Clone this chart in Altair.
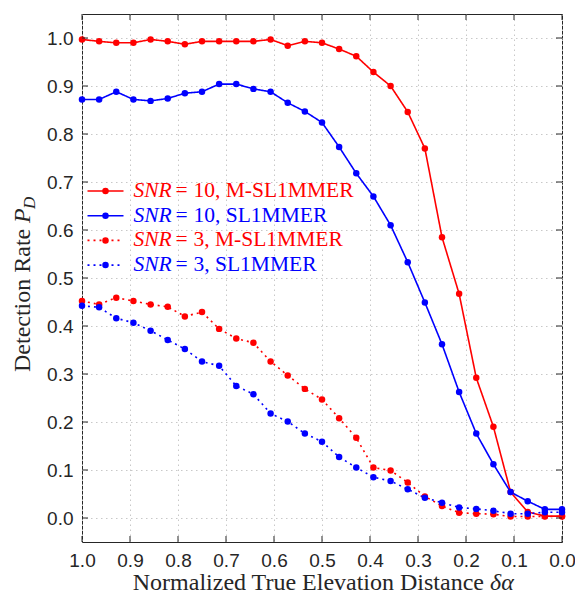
import altair as alt
import pandas as pd

# ---- data ----
x_vals = [1.0, 0.9643, 0.9286, 0.8929, 0.8571, 0.8214, 0.7857, 0.75, 0.7143, 0.6786,
          0.6429, 0.6071, 0.5714, 0.5357, 0.5, 0.4643, 0.4286, 0.3929, 0.3571, 0.3214,
          0.2857, 0.25, 0.2143, 0.1786, 0.1429, 0.1071, 0.0714, 0.0357, 0.0]

m_snr10 = [0.997, 0.993, 0.990, 0.990, 0.997, 0.993, 0.987, 0.993, 0.993, 0.993,
           0.993, 0.997, 0.984, 0.993, 0.990, 0.977, 0.962, 0.929, 0.900, 0.846,
           0.770, 0.585, 0.467, 0.292, 0.190, 0.054, 0.0125, 0.004, 0.004]

s_snr10 = [0.872, 0.872, 0.888, 0.872, 0.869, 0.874, 0.885, 0.888, 0.904, 0.904,
           0.894, 0.888, 0.865, 0.847, 0.824, 0.773, 0.718, 0.670, 0.610, 0.533,
           0.449, 0.362, 0.2625, 0.176, 0.112, 0.054, 0.035, 0.018, 0.018]

m_snr3 = [0.452, 0.445, 0.459, 0.452, 0.445, 0.440, 0.420, 0.429, 0.394, 0.374,
          0.365, 0.326, 0.297, 0.269, 0.247, 0.208, 0.167, 0.105, 0.099, 0.074,
          0.045, 0.025, 0.011, 0.009, 0.008, 0.003, 0.003, 0.003, 0.003]

s_snr3 = [0.442, 0.439, 0.416, 0.407, 0.390, 0.371, 0.352, 0.326, 0.317, 0.275,
          0.258, 0.2175, 0.201, 0.176, 0.159, 0.127, 0.105, 0.085, 0.077, 0.060,
          0.042, 0.032, 0.022, 0.019, 0.015, 0.009, 0.009, 0.012, 0.012]

series_names = ["SNR10_M", "SNR10_S", "SNR3_M", "SNR3_S"]
legend_rest = ["10, M-SL1MMER", "10, SL1MMER", "3, M-SL1MMER", "3, SL1MMER"]
series_colors = ["#ff0000", "#0000ff", "#ff0000", "#0000ff"]
series_dash = [[1, 0], [1, 0], [2, 4], [2, 4]]
tick_vals = [0.0, 0.1, 0.2, 0.3, 0.4, 0.5, 0.6, 0.7, 0.8, 0.9, 1.0]

# ---- layout ----
W, H = 480, 528
AX = "#262626"
SERIF = "Liberation Serif"
SANS = "Liberation Sans"

rows = []
for name, ys in zip(series_names, [m_snr10, s_snr10, m_snr3, s_snr3]):
    for xv, yv in zip(x_vals, ys):
        rows.append({"series": name, "x": xv, "y": yv})
df = pd.DataFrame(rows)

xscale = alt.Scale(domain=[0, 1], reverse=True, nice=False, zero=False)
yscale = alt.Scale(domain=[-0.05, 1.05], nice=False, zero=False)

axis_common = dict(values=tick_vals, format=".1f", title=None, grid=True,
                   gridDash=[1.5, 3.5], gridColor="#c8c8c8", gridWidth=1,
                   domain=False, ticks=False, labelFont=SANS, labelFontSize=19,
                   labelColor=AX, labelFlush=False, labelOverlap=False)
x_axis = alt.Axis(labelPadding=9, **axis_common)
y_axis = alt.Axis(labelPadding=9, **axis_common)

color = alt.Color("series:N", scale=alt.Scale(domain=series_names, range=series_colors), legend=None)
dash = alt.StrokeDash("series:N", scale=alt.Scale(domain=series_names, range=series_dash), legend=None)

base = alt.Chart(df).encode(
    x=alt.X("x:Q", scale=xscale, axis=x_axis),
    y=alt.Y("y:Q", scale=yscale, axis=y_axis),
    color=color,
    detail="series:N",
)
lines = base.mark_line(strokeWidth=1.6).encode(strokeDash=dash)
points = base.mark_point(filled=True, size=42, opacity=1)

tdf = pd.DataFrame({"t": tick_vals})
tk = alt.Chart(tdf).mark_rule(color=AX, strokeWidth=1)
tx = alt.X("t:Q", scale=xscale, axis=x_axis)
ty = alt.Y("t:Q", scale=yscale, axis=y_axis)
ticks_b = tk.encode(x=tx, y=alt.value(H), y2=alt.value(H - 6))
ticks_t = tk.encode(x=tx, y=alt.value(0), y2=alt.value(6))
ticks_l = tk.encode(y=ty, x=alt.value(0), x2=alt.value(6))
ticks_r = tk.encode(y=ty, x=alt.value(W), x2=alt.value(W - 6))

one = pd.DataFrame({"a": [0]})
layers = [lines, points, ticks_b, ticks_t, ticks_l, ticks_r]

# legend (manual, to get italic SNR)
LFS = 21.5
for i in range(4):
    yy = 177 + i * 24.7
    c = series_colors[i]
    layers.append(alt.Chart(one).mark_rule(color=c, strokeWidth=1.6, strokeDash=series_dash[i]).encode(
        x=alt.value(5.5), x2=alt.value(41.5), y=alt.value(yy)))
    layers.append(alt.Chart(one).mark_point(filled=True, size=42, opacity=1, color=c).encode(
        x=alt.value(23.5), y=alt.value(yy)))
    layers.append(alt.Chart(one).mark_text(align="left", baseline="middle", font=SERIF,
                                           fontStyle="italic", fontSize=LFS, color=c).encode(
        x=alt.value(51.5), y=alt.value(yy), text=alt.value("SNR")))
    layers.append(alt.Chart(one).mark_text(align="left", baseline="middle", font=SERIF,
                                           fontSize=LFS, color=c).encode(
        x=alt.value(93.5), y=alt.value(yy), text=alt.value("=")))
    layers.append(alt.Chart(one).mark_text(align="left", baseline="middle", font=SERIF,
                                           fontSize=LFS, color=c).encode(
        x=alt.value(111.5), y=alt.value(yy), text=alt.value(legend_rest[i])))

# axis titles
layers.append(alt.Chart(one).mark_text(align="right", baseline="alphabetic", font=SERIF,
                                       fontSize=24, color=AX).encode(
    x=alt.value(402), y=alt.value(576), text=alt.value("Normalized True Elevation Distance")))
layers.append(alt.Chart(one).mark_text(align="left", baseline="alphabetic", font=SERIF,
                                       fontStyle="italic", fontSize=24, color=AX).encode(
    x=alt.value(408), y=alt.value(576), text=alt.value("δα")))

layers.append(alt.Chart(one).mark_text(align="left", baseline="alphabetic", angle=270, font=SERIF,
                                       fontSize=24, color=AX).encode(
    x=alt.value(-52), y=alt.value(358), text=alt.value("Detection Rate")))
layers.append(alt.Chart(one).mark_text(align="left", baseline="alphabetic", angle=270, font=SERIF,
                                       fontStyle="italic", fontSize=24, color=AX).encode(
    x=alt.value(-52), y=alt.value(209), text=alt.value("P")))
layers.append(alt.Chart(one).mark_text(align="left", baseline="alphabetic", angle=270, font=SERIF,
                                       fontStyle="italic", fontSize=17, color=AX).encode(
    x=alt.value(-47), y=alt.value(195), text=alt.value("D")))

chart = alt.layer(*layers).properties(
    width=W, height=H,
    padding={"left": 74, "top": 6, "right": 13, "bottom": 54},
    autosize=alt.AutoSizeParams(type="none"),
).configure_view(stroke=AX, strokeWidth=1)

chart.save("out.html", embed_options={"renderer": "svg", "actions": False})
